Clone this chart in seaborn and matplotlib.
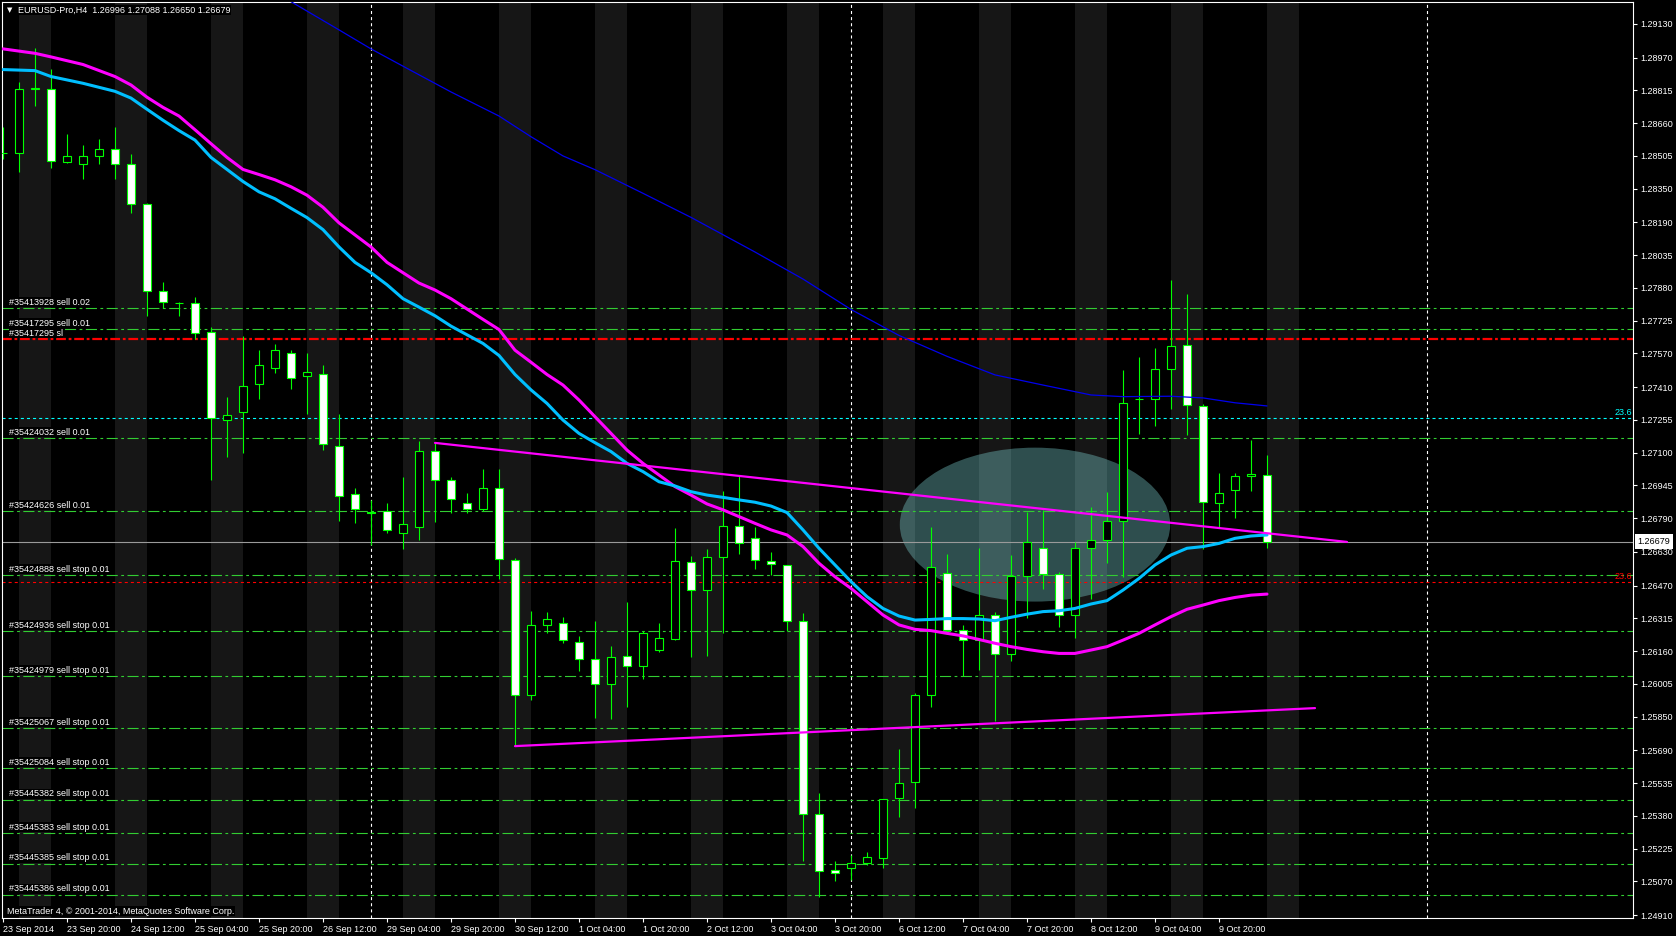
import matplotlib

matplotlib.use("Agg")
import matplotlib.pyplot as plt
import matplotlib.transforms as mtransforms
import numpy as np
import pandas as pd
import seaborn as sns
from matplotlib.patches import Ellipse


# ------------------------------------------------------
# Data (bar 0 = first bar, 23 Sep 2014)
# ------------------------------------------------------
opens = [1.28521, 1.28519, 1.28824, 1.28824, 1.28474, 1.28469, 1.28506, 1.28536, 1.28466, 1.28276,
         1.27867, 1.27807, 1.27807, 1.27673, 1.27254, 1.27291, 1.27423, 1.27503, 1.27570, 1.27461,
         1.27471, 1.27130, 1.26903, 1.26818, 1.26822, 1.26720, 1.26750, 1.27109, 1.26968, 1.26862,
         1.26835, 1.26931, 1.26590, 1.25952, 1.26282, 1.26291, 1.26205, 1.26121, 1.26003, 1.26138,
         1.26088, 1.26164, 1.26219, 1.26584, 1.26448, 1.26604, 1.26754, 1.26694, 1.26588, 1.26569,
         1.26301, 1.25387, 1.25122, 1.25131, 1.25158, 1.25178, 1.25463, 1.25538, 1.25950, 1.26528,
         1.26258, 1.26211, 1.26329, 1.26145, 1.26514, 1.26647, 1.26523, 1.26329, 1.26647, 1.26685,
         1.26775, 1.27352, 1.27352, 1.27494, 1.27608, 1.27319, 1.26860, 1.26921, 1.26988, 1.26996]
highs = [1.28640, 1.28857, 1.29017, 1.28917, 1.28609, 1.28555, 1.28583, 1.28640, 1.28514, 1.28283,
         1.27908, 1.27813, 1.27838, 1.27696, 1.27361, 1.27652, 1.27585, 1.27614, 1.27585, 1.27570,
         1.27515, 1.27283, 1.26932, 1.26875, 1.26862, 1.26985, 1.27153, 1.27148, 1.26985, 1.26911,
         1.27022, 1.27022, 1.26600, 1.26350, 1.26345, 1.26320, 1.26231, 1.26303, 1.26184, 1.26392,
         1.26255, 1.26291, 1.26743, 1.26610, 1.26644, 1.26918, 1.26989, 1.26746, 1.26628, 1.26569,
         1.26339, 1.25486, 1.25164, 1.25196, 1.25208, 1.25458, 1.25696, 1.25960, 1.26748, 1.26618,
         1.26284, 1.26648, 1.26345, 1.26615, 1.26820, 1.26828, 1.26533, 1.26675, 1.26842, 1.26913,
         1.27491, 1.27553, 1.27595, 1.27918, 1.27853, 1.27330, 1.27003, 1.27003, 1.27160, 1.27088]
lows = [1.28490, 1.28428, 1.28740, 1.28449, 1.28472, 1.28397, 1.28469, 1.28397, 1.28234, 1.27745,
        1.27784, 1.27745, 1.27639, 1.26968, 1.27079, 1.27100, 1.27352, 1.27479, 1.27399, 1.27283,
        1.27112, 1.26777, 1.26769, 1.26662, 1.26720, 1.26642, 1.26688, 1.26773, 1.26812, 1.26812,
        1.26822, 1.26500, 1.25710, 1.25928, 1.26244, 1.26197, 1.26067, 1.25845, 1.25837, 1.25897,
        1.26026, 1.26154, 1.26211, 1.26134, 1.26138, 1.26244, 1.26620, 1.26550, 1.26519, 1.26254,
        1.25167, 1.24997, 1.25073, 1.25076, 1.25145, 1.25134, 1.25376, 1.25418, 1.25897, 1.26250,
        1.26040, 1.26072, 1.25829, 1.26115, 1.26315, 1.26452, 1.26276, 1.26224, 1.26408, 1.26579,
        1.26512, 1.27190, 1.27228, 1.27308, 1.27185, 1.26642, 1.26746, 1.26792, 1.26920, 1.26650]
closes = [1.28519, 1.28824, 1.28825, 1.28482, 1.28506, 1.28506, 1.28536, 1.28466, 1.28276, 1.27864,
          1.27812, 1.27808, 1.27665, 1.27262, 1.27280, 1.27414, 1.27513, 1.27585, 1.27453, 1.27480,
          1.27140, 1.26893, 1.26831, 1.26812, 1.26732, 1.26761, 1.27109, 1.26968, 1.26879, 1.26831,
          1.26931, 1.26596, 1.25952, 1.26284, 1.26310, 1.26213, 1.26121, 1.26003, 1.26134, 1.26088,
          1.26244, 1.26220, 1.26585, 1.26448, 1.26604, 1.26751, 1.26670, 1.26590, 1.26571, 1.26301,
          1.25387, 1.25117, 1.25107, 1.25158, 1.25183, 1.25458, 1.25537, 1.25950, 1.26557, 1.26258,
          1.26213, 1.26329, 1.26145, 1.26514, 1.26678, 1.26525, 1.26329, 1.26647, 1.26685, 1.26775,
          1.27333, 1.27353, 1.27494, 1.27603, 1.27324, 1.26864, 1.26907, 1.26988, 1.26997, 1.26679]

# moving averages (magenta / cyan share the same bars)
ma_bars = [0, 2, 3, 5] + list(range(7, 80))
ma_magenta = [1.29012, 1.28991, 1.28974, 1.28938,
              1.28881, 1.28841, 1.28783, 1.28735, 1.28694, 1.28629, 1.28563, 1.28498, 1.28441, 1.28417,
              1.28392, 1.28359, 1.28319, 1.28262, 1.28188, 1.28131, 1.28074, 1.28001, 1.27952, 1.27903,
              1.27870, 1.27829, 1.27780, 1.27731, 1.27683, 1.27585, 1.27528, 1.27470, 1.27420, 1.27349,
              1.27270, 1.27191, 1.27112, 1.27049, 1.26994, 1.26939, 1.26899, 1.26857, 1.26829, 1.26797,
              1.26765, 1.26734, 1.26710, 1.26655, 1.26576, 1.26512, 1.26457, 1.26394, 1.26331, 1.26284,
              1.26263, 1.26257, 1.26244, 1.26232, 1.26215, 1.26197, 1.26181, 1.26168, 1.26157, 1.26149,
              1.26149, 1.26165, 1.26181, 1.26212, 1.26244, 1.26284, 1.26323, 1.26358, 1.26378, 1.26399,
              1.26414, 1.26425, 1.26430]
ma_cyan = [1.28914, 1.28909, 1.28881, 1.28849,
           1.28811, 1.28779, 1.28726, 1.28674, 1.28625, 1.28580, 1.28498, 1.28441, 1.28384, 1.28335,
           1.28302, 1.28257, 1.28213, 1.28156, 1.28074, 1.28001, 1.27952, 1.27895, 1.27829, 1.27789,
           1.27748, 1.27699, 1.27658, 1.27617, 1.27560, 1.27470, 1.27397, 1.27333, 1.27254, 1.27191,
           1.27147, 1.27105, 1.27049, 1.27010, 1.26962, 1.26942, 1.26915, 1.26899, 1.26888, 1.26876,
           1.26865, 1.26847, 1.26816, 1.26734, 1.26647, 1.26568, 1.26489, 1.26418, 1.26362, 1.26326,
           1.26307, 1.26310, 1.26314, 1.26314, 1.26312, 1.26304, 1.26320, 1.26335, 1.26347, 1.26351,
           1.26362, 1.26383, 1.26399, 1.26449, 1.26504, 1.26568, 1.26615, 1.26647, 1.26655, 1.26670,
           1.26694, 1.26705, 1.26710]
blue_bars = [17, 21, 23, 25, 28, 31, 33, 35, 37, 40, 43, 47, 50, 53, 56, 59, 62, 65, 68, 70, 73, 75, 77, 79]
ma_blue = [1.29280, 1.29102, 1.29012, 1.28930, 1.28808, 1.28694, 1.28596, 1.28505, 1.28440, 1.28328,
           1.28214, 1.28050, 1.27922, 1.27778, 1.27655, 1.27556, 1.27468, 1.27420, 1.27373, 1.27365,
           1.27367, 1.27359, 1.27336, 1.27321]

# hand drawn trend lines
upper_trend_bars = [27, 84]
upper_trend = [1.27146, 1.26677]
lower_trend_bars = [32, 82]
lower_trend = [1.25710, 1.25890]

# pending / open orders
order_labels = ["#35413928 sell 0.02", "#35417295 sell 0.01", "#35424032 sell 0.01",
                "#35424626 sell 0.01", "#35424888 sell stop 0.01", "#35424936 sell stop 0.01",
                "#35424979 sell stop 0.01", "#35425067 sell stop 0.01", "#35425084 sell stop 0.01",
                "#35445382 sell stop 0.01", "#35445383 sell stop 0.01", "#35445385 sell stop 0.01",
                "#35445386 sell stop 0.01"]
order_prices = [1.27784, 1.27684, 1.27169, 1.26823, 1.26519, 1.26255, 1.26041, 1.25794,
                1.25605, 1.25455, 1.25298, 1.25152, 1.25005]
sl_label = "#35417295 sl"
sl_price = 1.27638
fib_cyan = 1.27262
fib_red = 1.26486
last_price = 1.26679

price_ticks = [1.29130, 1.28970, 1.28815, 1.28660, 1.28505, 1.28350, 1.28190, 1.28035, 1.27880,
               1.27725, 1.27570, 1.27410, 1.27255, 1.27100, 1.26945, 1.26790, 1.26630, 1.26470,
               1.26315, 1.26160, 1.26005, 1.25850, 1.25690, 1.25535, 1.25380, 1.25225, 1.25070,
               1.24910]
time_labels = ["23 Sep 2014", "23 Sep 20:00", "24 Sep 12:00", "25 Sep 04:00", "25 Sep 20:00",
               "26 Sep 12:00", "29 Sep 04:00", "29 Sep 20:00", "30 Sep 12:00", "1 Oct 04:00",
               "1 Oct 20:00", "2 Oct 12:00", "3 Oct 04:00", "3 Oct 20:00", "6 Oct 12:00",
               "7 Oct 04:00", "7 Oct 20:00", "8 Oct 12:00", "9 Oct 04:00", "9 Oct 20:00"]
separator_bars = [23, 53, 89]

W, H = 1676, 936
GREEN = "#32cd32"
FS = 6.5


def draw_background(ax):
    # session shading, 2 bars out of every 6
    for k in range(14):
        ax.axvspan(1 + 6 * k, 3 + 6 * k, color="#161616", lw=0, zorder=0)
    ax.add_patch(Ellipse((64.5, 1.26759), 16.9, 0.00729, facecolor="#86e2e2",
                         alpha=0.35, edgecolor="none", zorder=0.5))
    for b in separator_bars:
        ax.axvline(b, color="white", lw=0.8, ls=(0, (2.2, 2.2)), zorder=1)


def draw_levels(fig, ax):
    trans = mtransforms.blended_transform_factory(ax.transAxes, ax.transData)
    lbl_trans = mtransforms.offset_copy(trans, fig=fig, x=0, y=1.5, units="dots")
    for lbl, p in zip(order_labels, order_prices):
        ax.axhline(p, color=GREEN, lw=0.8, ls=(0, (8, 2.5, 2, 2.5)), zorder=1.5)
        ax.text(0.0043, p, lbl, transform=lbl_trans, color="white", fontsize=FS,
                va="bottom", ha="left", zorder=6,
                bbox=dict(facecolor="black", edgecolor="none", pad=0.3))
    ax.axhline(sl_price, color="red", lw=1.6, ls=(0, (7, 2, 2, 2)), zorder=1.5)
    ax.text(0.0043, sl_price, sl_label, transform=lbl_trans, color="white", fontsize=FS,
            va="bottom", ha="left", zorder=6,
            bbox=dict(facecolor="black", edgecolor="none", pad=0.3))
    ax.axhline(fib_cyan, color="cyan", lw=0.8, ls=(0, (2.2, 2.2)), zorder=1.5)
    ax.text(0.9993, fib_cyan, "23.6", transform=lbl_trans, color="cyan", fontsize=FS,
            va="bottom", ha="right", zorder=6)
    ax.axhline(fib_red, color="red", lw=0.8, ls=(0, (2.2, 2.2)), zorder=1.5)
    ax.text(0.9993, fib_red, "23.6", transform=lbl_trans, color="red", fontsize=FS,
            va="bottom", ha="right", zorder=6)
    ax.axhline(last_price, color="#9a9a9a", lw=0.8, zorder=1.5)
    ax.text(1.0028, last_price, f"{last_price:.5f}", transform=trans, color="black",
            fontsize=FS, va="center", ha="left", clip_on=False, zorder=10,
            bbox=dict(facecolor="white", edgecolor="none", boxstyle="square,pad=0.3"))


def draw_candles(ax):
    x = np.arange(len(opens))
    o = np.array(opens)
    c = np.array(closes)
    bull = c >= o
    ax.vlines(x, lows, highs, color="#00ff00", lw=0.8, zorder=3)
    ax.bar(x, np.maximum(np.abs(c - o), 0.00002), bottom=np.minimum(o, c), width=0.55,
           color=np.where(bull, "black", "white"), edgecolor="#00ff00", linewidth=0.8,
           zorder=4)


def draw_lines(ax):
    ma = pd.DataFrame({"bar": ma_bars, "magenta": ma_magenta, "cyan": ma_cyan})
    sns.lineplot(data=ma, x="bar", y="magenta", ax=ax, color="#ff00ff", lw=2.2,
                 estimator=None, zorder=5)
    sns.lineplot(data=ma, x="bar", y="cyan", ax=ax, color="#00bfff", lw=2.2,
                 estimator=None, zorder=5)
    sns.lineplot(x=blue_bars, y=ma_blue, ax=ax, color="#0000ee", lw=0.9,
                 estimator=None, zorder=5)
    sns.lineplot(x=upper_trend_bars, y=upper_trend, ax=ax, color="#ff00ff", lw=1.6,
                 estimator=None, zorder=5)
    sns.lineplot(x=lower_trend_bars, y=lower_trend, ax=ax, color="#ff00ff", lw=1.6,
                 estimator=None, zorder=5)


def main():
    sns.set_theme(style="dark")
    plt.rcParams["font.family"] = ["Liberation Sans", "DejaVu Sans"]
    plt.rcParams["lines.scale_dashes"] = False

    fig = plt.figure(figsize=(W / 100, H / 100), dpi=100, facecolor="black")
    ax = fig.add_axes([2 / W, 1 - 918 / H, 1631 / W, 916 / H])
    ax.set_facecolor("black")

    draw_background(ax)
    draw_levels(fig, ax)
    draw_candles(ax)
    draw_lines(ax)

    ax.set_xlim(-0.0625, 101.875)
    ax.set_ylim(1.24896, 1.29234)
    ax.grid(False)
    ax.set_xlabel("")
    ax.set_ylabel("")

    ax.yaxis.tick_right()
    ax.set_yticks(price_ticks, labels=[f"{v:.5f}" for v in price_ticks])
    ax.set_xticks(list(range(0, 80, 4)))
    ax.set_xticklabels(time_labels, ha="left")
    ax.tick_params(axis="y", right=True, left=False, colors="white", labelcolor="white",
                   length=3, width=0.8, labelsize=FS, pad=2, direction="out")
    ax.tick_params(axis="x", bottom=True, colors="white", labelcolor="white",
                   length=3, width=0.8, labelsize=FS, pad=2, direction="out")
    for s in ax.spines.values():
        s.set_color("white")
        s.set_linewidth(0.8)
        s.set_visible(True)

    # header and footer
    fig.text(10 / W, 1 - 10 / H, "\u25bc", color="white", fontsize=5, ha="center",
             va="center", family=["DejaVu Sans"])
    fig.text(18 / W, 1 - 10 / H, "EURUSD-Pro,H4  1.26996 1.27088 1.26650 1.26679",
             color="white", fontsize=FS, ha="left", va="center",
             bbox=dict(facecolor="black", edgecolor="none", pad=0.5))
    fig.text(7 / W, 1 - 911 / H, "MetaTrader 4, \u00a9 2001-2014, MetaQuotes Software Corp.",
             color="white", fontsize=FS, ha="left", va="center",
             bbox=dict(facecolor="black", edgecolor="none", pad=0.5))

    fig.savefig("out.png", dpi=100, facecolor="black")
    plt.close(fig)


if __name__ == "__main__":
    main()
